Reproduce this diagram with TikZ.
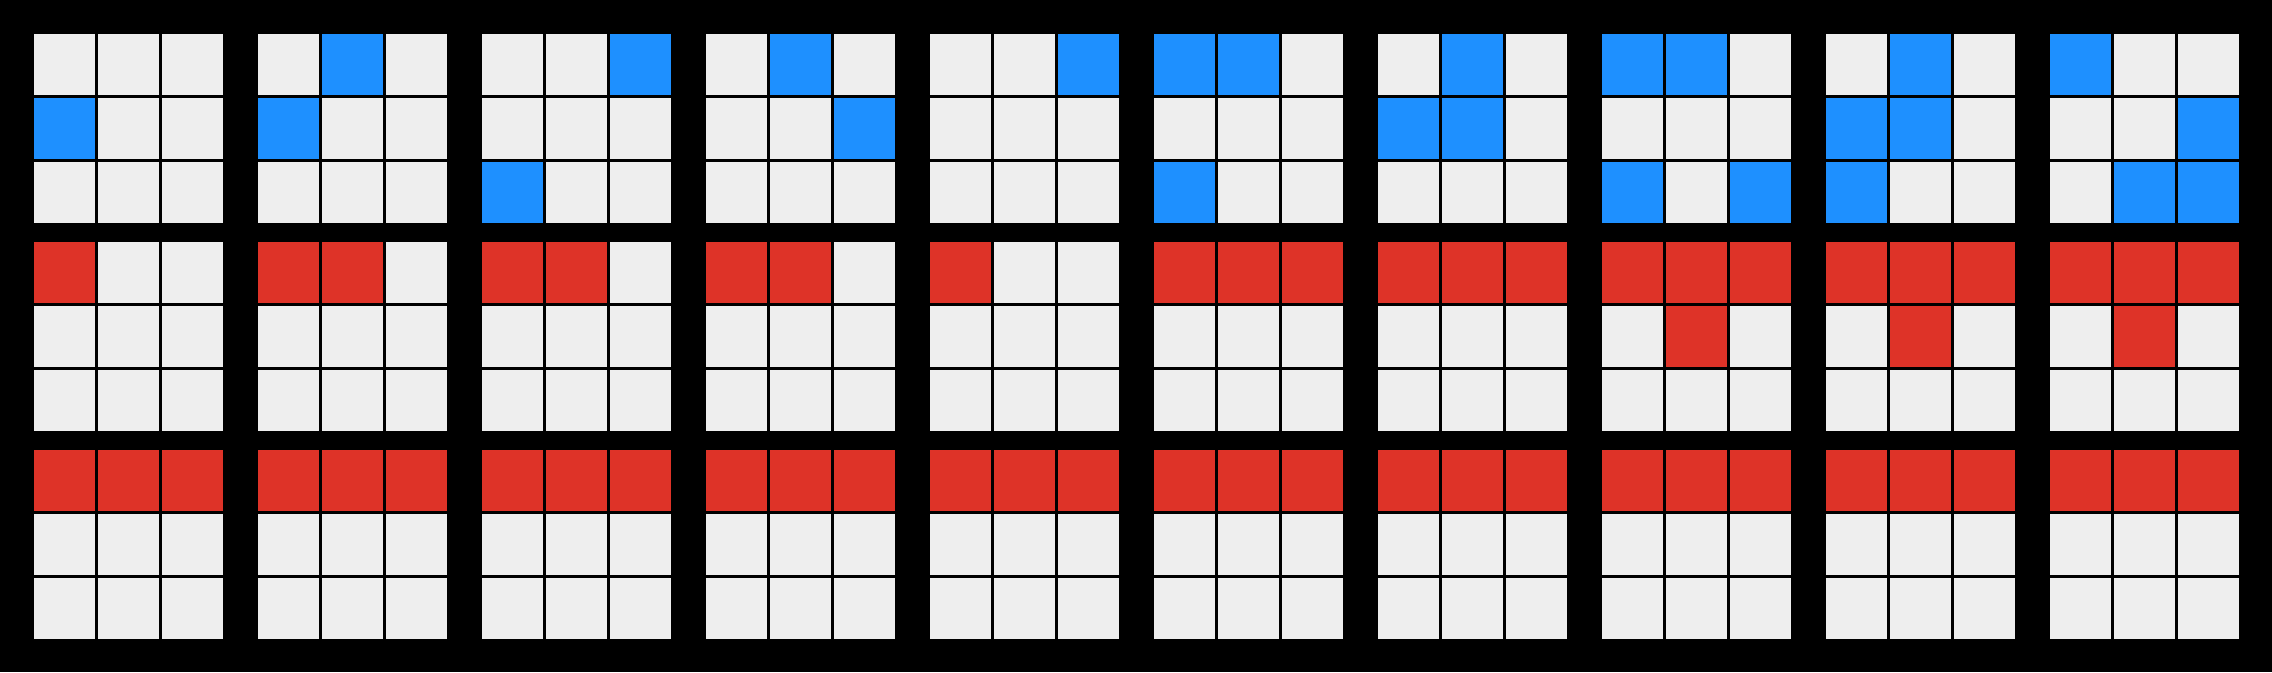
\documentclass[tikz,border=0pt]{standalone}
\definecolor{boardgray}{HTML}{EEEEEE}
\definecolor{boardblue}{HTML}{1E90FF}
\definecolor{boardred}{HTML}{DE3328}

\begin{document}
\begin{tikzpicture}[
        x=1pt, y=-1pt,
        cellbox/.style={fill=boardgray},
        bluecell/.style={fill=boardblue},
        redcell/.style={fill=boardred}]

  % background ----------------------------------------------
  \fill[black] (0,0) rectangle (2272,672);

  % empty 3x3 boards ----------------------------------------
  \foreach \i in {0,...,9}
    \foreach \j in {0,1,2}
      \foreach \r in {0,1,2}
        \foreach \c in {0,1,2}
          \fill[cellbox] ({34+224*\i+64*\c},{34+208*\j+64*\r}) rectangle +(61,61);

  % top row: blue cells -------------------------------------
  \foreach \cells [count=\i from 0] in
      {{1/0},{0/1,1/0},{0/2,2/0},{0/1,1/2},{0/2},
       {0/0,0/1,2/0},{0/1,1/0,1/1},{0/0,0/1,2/0,2/2},
       {0/1,1/0,1/1,2/0},{0/0,1/2,2/1,2/2}}
    \foreach \r/\c in \cells
      \fill[bluecell] ({34+224*\i+64*\c},{34+64*\r}) rectangle +(61,61);

  % middle row: red cells -----------------------------------
  \foreach \cells [count=\i from 0] in
      {{0/0},{0/0,0/1},{0/0,0/1},{0/0,0/1},{0/0},
       {0/0,0/1,0/2},{0/0,0/1,0/2},{0/0,0/1,0/2,1/1},
       {0/0,0/1,0/2,1/1},{0/0,0/1,0/2,1/1}}
    \foreach \r/\c in \cells
      \fill[redcell] ({34+224*\i+64*\c},{242+64*\r}) rectangle +(61,61);

  % bottom row: full red top line ---------------------------
  \foreach \i in {0,...,9}
    \foreach \c in {0,1,2}
      \fill[redcell] ({34+224*\i+64*\c},450) rectangle +(61,61);

\end{tikzpicture}
\end{document}
